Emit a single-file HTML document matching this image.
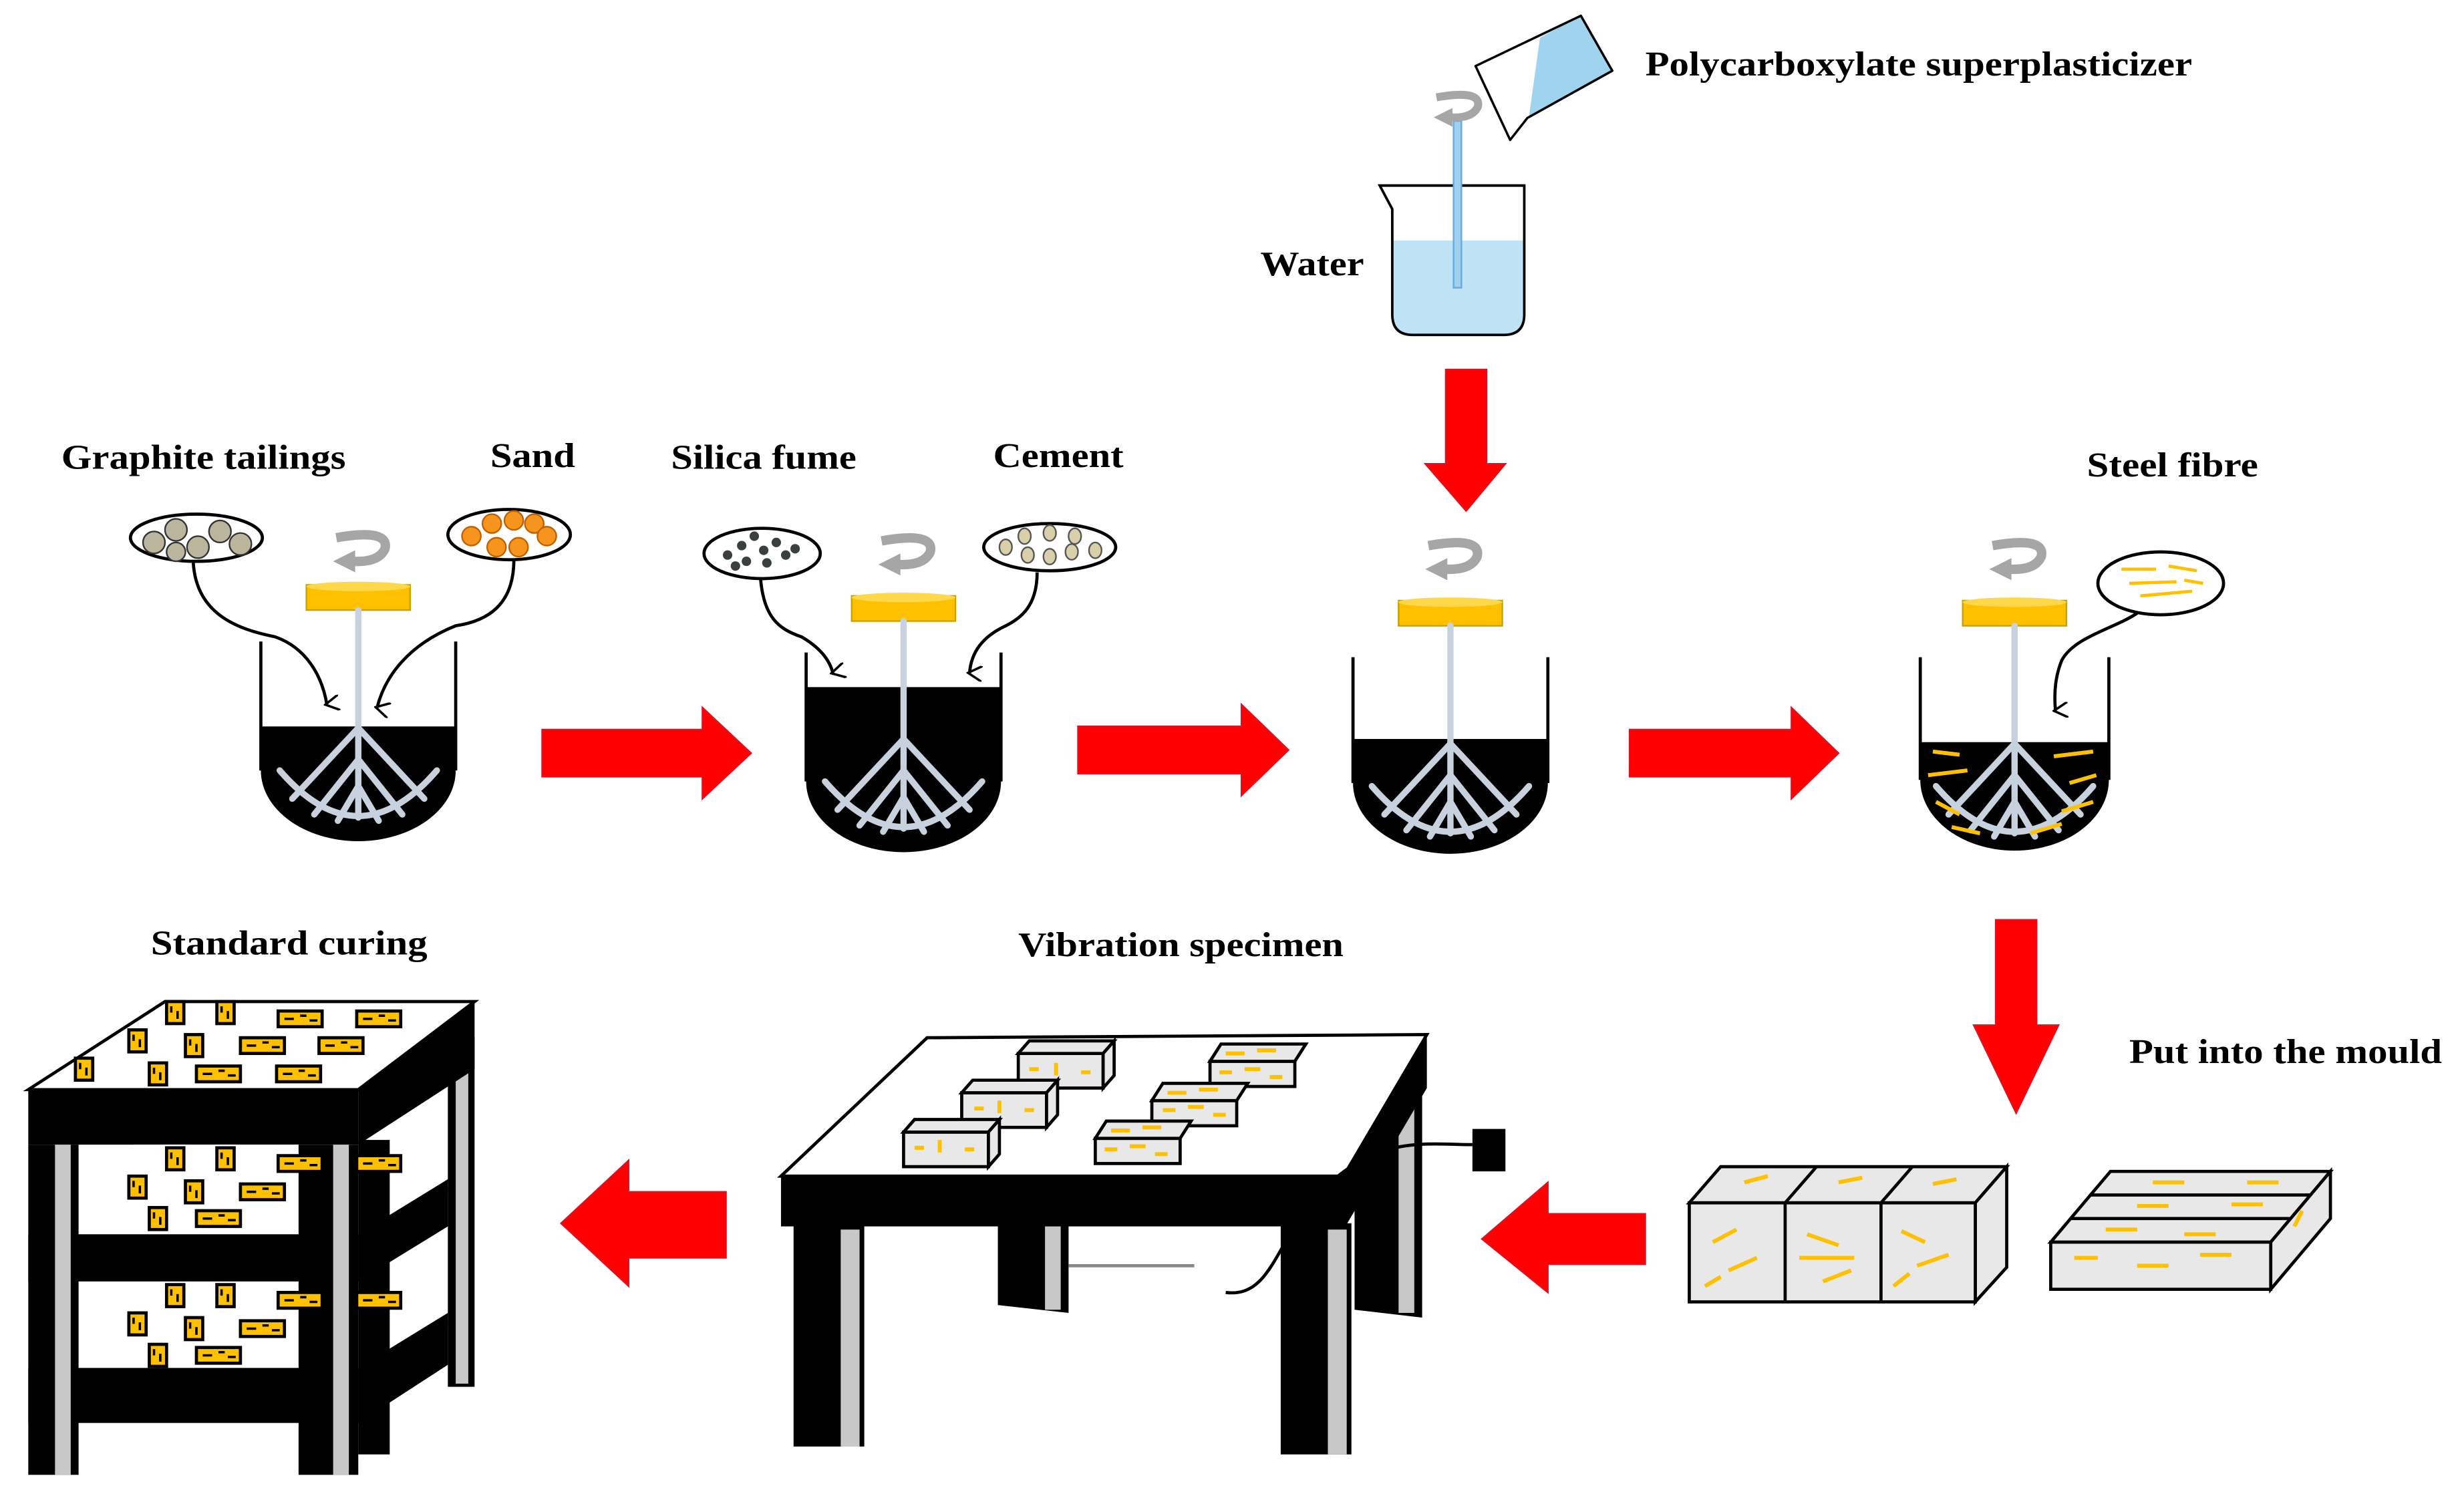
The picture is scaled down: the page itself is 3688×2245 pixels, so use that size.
<!DOCTYPE html>
<html><head><meta charset="utf-8"><style>
html,body{margin:0;padding:0;background:#fff;}
svg{display:block;}
text{font-family:"Liberation Serif",serif;font-weight:bold;font-size:22px;fill:#000;}
</style></head><body>
<svg width="3688" height="2245" viewBox="0 0 1568 954" preserveAspectRatio="none" xmlns="http://www.w3.org/2000/svg">
<defs>
<g id="paddle">
  <rect x="-33" y="-36" width="66" height="16" fill="#ffc000" stroke="#c9a000" stroke-width="1"/>
  <ellipse cx="0" cy="-35" rx="33" ry="3" fill="#ffd84a"/>
  <g stroke="#c8d2de" stroke-width="4" fill="none" stroke-linecap="round">
    <line x1="0" y1="-20" x2="0" y2="112"/>
    <line x1="0" y1="55" x2="-42" y2="100"/><line x1="0" y1="55" x2="42" y2="100"/>
    <line x1="0" y1="75" x2="-28" y2="110"/><line x1="0" y1="75" x2="28" y2="110"/>
    <line x1="0" y1="92" x2="-13" y2="114"/><line x1="0" y1="92" x2="13" y2="114"/>
    <path d="M-50,82 Q0,140 50,82"/>
  </g>
</g>
<g id="rot">
  <path d="M-14,-66 Q20,-72 17,-59 Q13,-50 -4,-51" stroke="#a6a6a6" stroke-width="6" fill="none"/>
  <polygon points="-2,-58 -16,-51 -2,-44" fill="#a6a6a6"/>
</g>
<marker id="ah" markerWidth="10" markerHeight="10" refX="5" refY="8" orient="auto" markerUnits="userSpaceOnUse">
  <path d="M0,0 L5,9 L10,0" fill="none" stroke="#000" stroke-width="1.5"/>
</marker>
<g id="cubeY"><rect x="0" y="0" width="11" height="14" fill="#ffc000" stroke="#000" stroke-width="2"/><path d="M3,3 v4 M7,6 v5" stroke="#000" stroke-width="1.5"/></g>
<g id="barY"><rect x="0" y="0" width="28" height="10" fill="#ffc000" stroke="#000" stroke-width="2"/><path d="M4,5 h6 M14,3 h4 M20,6 h5" stroke="#000" stroke-width="1.5"/></g>
</defs>

<!-- Labels -->
<text x="1047" y="48" textLength="348" lengthAdjust="spacingAndGlyphs">Polycarboxylate superplasticizer</text>
<text x="802" y="175" textLength="66" lengthAdjust="spacingAndGlyphs">Water</text>
<text x="39" y="298" textLength="181" lengthAdjust="spacingAndGlyphs">Graphite tailings</text>
<text x="312" y="297" textLength="54" lengthAdjust="spacingAndGlyphs">Sand</text>
<text x="427" y="298" textLength="118" lengthAdjust="spacingAndGlyphs">Silica fume</text>
<text x="632" y="297" textLength="83" lengthAdjust="spacingAndGlyphs">Cement</text>
<text x="1328" y="303" textLength="109" lengthAdjust="spacingAndGlyphs">Steel fibre</text>
<text x="96" y="607" textLength="176" lengthAdjust="spacingAndGlyphs">Standard curing</text>
<text x="648" y="608" textLength="207" lengthAdjust="spacingAndGlyphs">Vibration specimen</text>
<text x="1355" y="676" textLength="199" lengthAdjust="spacingAndGlyphs">Put into the mould</text>

<!-- Beaker and flask -->
<path d="M878,118 L970,118 L970,200 Q970,213 957,213 L899,213 Q886,213 886,200 L886,133 Z" fill="#fff"/>
<path d="M886,153 L970,153 L970,200 Q970,213 957,213 L899,213 Q886,213 886,200 Z" fill="#bde3f5"/>
<path d="M878,118 L970,118 L970,200 Q970,213 957,213 L899,213 Q886,213 886,200 L886,133 Z" fill="none" stroke="#000" stroke-width="1.6"/>
<rect x="925" y="77" width="5" height="106" fill="#9ed0ef" stroke="#6aa8d8" stroke-width="1"/>
<polygon points="939,42 1006,10 1026,45 972,75 961,89" fill="#fff"/>
<polygon points="980,24 1006,10 1026,45 973,74" fill="#9fd3ee"/>
<polygon points="939,42 1006,10 1026,45 972,75 961,89" fill="none" stroke="#000" stroke-width="1.5" stroke-linejoin="round"/>
<g transform="translate(926,118)"><use href="#rot" transform="scale(0.85)"/></g>

<!-- Mixer 1 -->
<g transform="translate(228,408)">
  <path d="M-62,54 H62 V82 A62,45 0 0 1 -62,82 Z" fill="#000"/>
  <path d="M-62,0 V82 M62,0 V82" stroke="#000" stroke-width="2"/>
  <use href="#paddle"/><use href="#rot"/>
</g>
<ellipse cx="125" cy="342" rx="42" ry="15" fill="#fff" stroke="#000" stroke-width="2"/>
<g fill="#bcb59d" stroke="#333" stroke-width="1">
<circle cx="98" cy="345" r="7"/><circle cx="112" cy="337" r="7"/><circle cx="126" cy="348" r="7"/><circle cx="140" cy="338" r="7"/><circle cx="153" cy="346" r="7"/><circle cx="112" cy="351" r="6"/></g>
<ellipse cx="324" cy="340" rx="39" ry="16" fill="#fff" stroke="#000" stroke-width="2"/>
<g fill="#f7941d" stroke="#c06000" stroke-width="1">
<circle cx="300" cy="341" r="6"/><circle cx="313" cy="333" r="6"/><circle cx="327" cy="331" r="6"/><circle cx="340" cy="333" r="6"/><circle cx="348" cy="341" r="6"/><circle cx="316" cy="348" r="6"/><circle cx="330" cy="348" r="6"/></g>
<path d="M123,358 C125,390 150,400 175,405 C195,412 205,430 208,448" fill="none" stroke="#000" stroke-width="2" marker-end="url(#ah)"/>
<path d="M327,356 C327,385 310,395 290,398 C260,410 245,430 240,450" fill="none" stroke="#000" stroke-width="2" marker-end="url(#ah)"/>

<!-- Mixer 2 -->
<g transform="translate(575,415)">
  <path d="M-62,22 H62 V82 A62,45 0 0 1 -62,82 Z" fill="#000"/>
  <path d="M-62,0 V82 M62,0 V82" stroke="#000" stroke-width="2"/>
  <use href="#paddle"/><use href="#rot" transform="translate(0,-5)"/>
</g>
<ellipse cx="485" cy="352" rx="37" ry="16" fill="#fff" stroke="#000" stroke-width="2"/>
<g fill="#3a3f40"><circle cx="463" cy="353" r="3"/><circle cx="472" cy="347" r="3"/><circle cx="480" cy="341" r="3"/><circle cx="486" cy="350" r="3"/><circle cx="494" cy="345" r="3"/><circle cx="500" cy="353" r="3"/><circle cx="475" cy="357" r="3"/><circle cx="488" cy="358" r="3"/><circle cx="468" cy="360" r="3"/><circle cx="506" cy="349" r="3"/></g>
<ellipse cx="668" cy="348" rx="42" ry="15" fill="#fff" stroke="#000" stroke-width="2"/>
<g fill="#d9cfa8" stroke="#555" stroke-width="1"><ellipse cx="640" cy="348" rx="4" ry="5"/><ellipse cx="652" cy="341" rx="4" ry="5"/><ellipse cx="668" cy="339" rx="4" ry="5"/><ellipse cx="684" cy="341" rx="4" ry="5"/><ellipse cx="697" cy="350" rx="4" ry="5"/><ellipse cx="654" cy="353" rx="4" ry="5"/><ellipse cx="668" cy="354" rx="4" ry="5"/><ellipse cx="682" cy="351" rx="4" ry="5"/></g>
<path d="M484,368 C486,392 495,400 510,405 C522,412 528,420 530,428" fill="none" stroke="#000" stroke-width="2" marker-end="url(#ah)"/>
<path d="M660,364 C660,385 650,393 640,398 C625,405 618,415 617,428" fill="none" stroke="#000" stroke-width="2" marker-end="url(#ah)"/>

<!-- Mixer 3 -->
<g transform="translate(923,418)">
  <path d="M-62,52 H62 V80 A62,45 0 0 1 -62,80 Z" fill="#000"/>
  <path d="M-62,0 V80 M62,0 V80" stroke="#000" stroke-width="2"/>
  <use href="#paddle"/><use href="#rot" transform="translate(0,-5)"/>
</g>

<!-- Mixer 4 -->
<g transform="translate(1282,418)">
  <path d="M-60,54 H60 V78 A60,45 0 0 1 -60,78 Z" fill="#000"/>
  <path d="M-60,0 V78 M60,0 V78" stroke="#000" stroke-width="2"/>
  <use href="#paddle"/><use href="#rot" transform="translate(0,-5)"/>
  <g stroke="#ffc000" stroke-width="2.5">
    <line x1="-52" y1="60" x2="-35" y2="62"/><line x1="-55" y1="75" x2="-30" y2="72"/><line x1="-50" y1="92" x2="-35" y2="100"/>
    <line x1="-40" y1="108" x2="-22" y2="112"/><line x1="25" y1="63" x2="50" y2="60"/><line x1="35" y1="80" x2="52" y2="75"/>
    <line x1="30" y1="98" x2="50" y2="92"/><line x1="10" y1="112" x2="30" y2="106"/>
  </g>
</g>
<ellipse cx="1375" cy="371" rx="40" ry="20" fill="#fff" stroke="#000" stroke-width="2"/>
<g stroke="#ffc000" stroke-width="2"><line x1="1350" y1="362" x2="1372" y2="362"/><line x1="1380" y1="360" x2="1398" y2="363"/><line x1="1355" y1="371" x2="1385" y2="370"/><line x1="1362" y1="379" x2="1395" y2="376"/><line x1="1390" y1="369" x2="1402" y2="371"/></g>
<path d="M1360,390 C1345,400 1320,405 1312,420 C1308,430 1307,440 1308,452" fill="none" stroke="#000" stroke-width="2" marker-end="url(#ah)"/>

<!-- Red arrows -->
<g fill="#ff0000" stroke="#e01020" stroke-width="1">
<polygon points="345,464 447,464 447,450 478,479 447,508 447,494 345,494"/>
<polygon points="686,462 790,462 790,448 820,477 790,506 790,492 686,492"/>
<polygon points="1037,464 1140,464 1140,450 1170,479 1140,508 1140,494 1037,494"/>
<polygon points="920,235 946,235 946,295 958,295 933,325 907,295 920,295"/>
<polygon points="1270,585 1296,585 1296,652 1310,652 1283,708 1256,652 1270,652"/>
<polygon points="1047,772 985,772 985,752 943,788 985,822 985,804 1047,804"/>
<polygon points="462,758 400,758 400,738 357,778 400,818 400,800 462,800"/>
</g>

<!-- Moulds -->
<g stroke="#000" stroke-width="2" fill="#e8e8e8">
<polygon points="1075,765 1095,742 1277,742 1257,765"/>
<polygon points="1257,765 1277,742 1277,806 1257,828"/>
<rect x="1075" y="765" width="182" height="63"/>
<line x1="1136" y1="765" x2="1136" y2="828"/><line x1="1197" y1="765" x2="1197" y2="828"/>
<line x1="1136" y1="765" x2="1156" y2="742"/><line x1="1197" y1="765" x2="1217" y2="742"/>
<polygon points="1305,790 1343,745 1483,745 1445,790"/>
<polygon points="1445,790 1483,745 1483,775 1445,820"/>
<rect x="1305" y="790" width="140" height="30"/>
<line x1="1318" y1="775" x2="1458" y2="775"/><line x1="1330" y1="760" x2="1470" y2="760"/>
</g>
<g stroke="#ffc000" stroke-width="2.5">
<line x1="1090" y1="790" x2="1105" y2="782"/><line x1="1100" y1="808" x2="1118" y2="800"/><line x1="1085" y1="818" x2="1095" y2="812"/>
<line x1="1150" y1="785" x2="1170" y2="792"/><line x1="1145" y1="800" x2="1180" y2="800"/><line x1="1160" y1="815" x2="1178" y2="808"/>
<line x1="1210" y1="783" x2="1225" y2="790"/><line x1="1220" y1="805" x2="1240" y2="798"/><line x1="1205" y1="818" x2="1215" y2="810"/>
<line x1="1110" y1="752" x2="1125" y2="748"/><line x1="1170" y1="752" x2="1185" y2="749"/><line x1="1230" y1="753" x2="1245" y2="750"/>
<line x1="1320" y1="800" x2="1335" y2="800"/><line x1="1360" y1="805" x2="1380" y2="805"/><line x1="1400" y1="798" x2="1420" y2="798"/>
<line x1="1340" y1="782" x2="1360" y2="782"/><line x1="1390" y1="785" x2="1410" y2="785"/><line x1="1360" y1="767" x2="1380" y2="767"/>
<line x1="1420" y1="766" x2="1440" y2="766"/><line x1="1370" y1="752" x2="1390" y2="752"/><line x1="1430" y1="752" x2="1450" y2="752"/>
<line x1="1460" y1="780" x2="1465" y2="770"/>
</g>

<!-- Vibration table -->
<g>
<polygon points="635,770 680,770 680,835 635,830" fill="#000"/><rect x="665" y="775" width="10" height="58" fill="#c8c8c8"/>
<polygon points="862,690 905,690 905,838 862,833" fill="#000"/><rect x="890" y="695" width="10" height="140" fill="#c8c8c8"/>
<line x1="680" y1="805" x2="760" y2="805" stroke="#888" stroke-width="2"/>
<polygon points="497,748 590,660 908,658 855,748" fill="#fff" stroke="#000" stroke-width="2"/>
<rect x="497" y="748" width="358" height="32" fill="#000"/>
<polygon points="855,748 908,658 908,692 855,782" fill="#000"/>
<rect x="505" y="778" width="45" height="142" fill="#000"/><rect x="535" y="782" width="12" height="138" fill="#c8c8c8"/>
<rect x="815" y="778" width="45" height="147" fill="#000"/><rect x="845" y="782" width="12" height="143" fill="#c8c8c8"/>
<path d="M937,728 C905,728 870,720 830,770 C810,800 805,825 780,822" fill="none" stroke="#000" stroke-width="2"/>
<rect x="937" y="718" width="21" height="27" fill="#000"/>
<g stroke="#000" stroke-width="2" fill="#e8e8e8">
<rect x="648" y="670" width="54" height="22"/><polygon points="648,670 655,662 709,662 702,670"/><polygon points="702,670 709,662 709,684 702,692"/>
<rect x="612" y="695" width="54" height="22"/><polygon points="612,695 619,687 673,687 666,695"/><polygon points="666,695 673,687 673,709 666,717"/>
<rect x="575" y="720" width="54" height="22"/><polygon points="575,720 582,712 636,712 629,720"/><polygon points="629,720 636,712 636,734 629,742"/>
<rect x="770" y="675" width="54" height="16"/><polygon points="770,675 777,664 831,664 824,675"/>
<rect x="733" y="700" width="54" height="16"/><polygon points="733,700 740,689 794,689 787,700"/>
<rect x="697" y="724" width="54" height="16"/><polygon points="697,724 704,713 758,713 751,724"/>
</g>
<g stroke="#ffc000" stroke-width="2.5">
<path d="M655,680 h6 M672,676 v8 M688,682 h6 M620,705 h6 M636,700 v8 M652,706 h6 M582,730 h6 M598,725 v8 M614,731 h6"/>
<path d="M776,682 h8 M792,680 h10 M808,685 h8 M740,706 h8 M756,704 h10 M772,709 h8 M703,731 h8 M719,729 h10 M735,734 h8"/>
<path d="M780,670 h12 M800,668 h12 M743,695 h12 M763,693 h12 M707,719 h12 M727,717 h12"/>
</g>
</g>

<!-- Curing shelf -->
<g>
<rect x="285" y="660" width="17" height="222" fill="#000"/><rect x="290" y="665" width="8" height="215" fill="#c8c8c8"/>
<polygon points="18,693 105,637 302,637 228,693" fill="#fff" stroke="#000" stroke-width="2"/>
<rect x="18" y="693" width="210" height="35" fill="#000"/>
<polygon points="228,693 302,637 302,680 228,728" fill="#000"/>
<polygon points="50,750 85,728 280,728 240,750" fill="#fff"/>
<polygon points="50,835 85,815 280,815 240,835" fill="#fff"/>
<rect x="18" y="785" width="210" height="30" fill="#000"/>
<polygon points="228,785 285,750 285,780 228,815" fill="#000"/>
<rect x="18" y="870" width="210" height="35" fill="#000"/>
<polygon points="228,870 285,835 285,868 228,905" fill="#000"/>
<rect x="18" y="728" width="32" height="210" fill="#000"/><rect x="35" y="728" width="10" height="210" fill="#c8c8c8"/>
<rect x="190" y="728" width="38" height="210" fill="#000"/><rect x="212" y="728" width="10" height="210" fill="#c8c8c8"/>
<rect x="228" y="725" width="20" height="200" fill="#000"/>
<g>
<use href="#cubeY" x="106" y="637"/><use href="#cubeY" x="138" y="637"/><use href="#barY" x="177" y="643"/><use href="#barY" x="227" y="643"/>
<use href="#cubeY" x="82" y="655"/><use href="#cubeY" x="118" y="658"/><use href="#barY" x="153" y="660"/><use href="#barY" x="203" y="660"/>
<use href="#cubeY" x="48" y="673"/><use href="#cubeY" x="95" y="676"/><use href="#barY" x="125" y="678"/><use href="#barY" x="176" y="678"/>
<use href="#cubeY" x="106" y="730"/><use href="#cubeY" x="138" y="730"/><use href="#barY" x="177" y="735"/><use href="#barY" x="227" y="735"/>
<use href="#cubeY" x="82" y="748"/><use href="#cubeY" x="118" y="751"/><use href="#barY" x="153" y="753"/>
<use href="#cubeY" x="95" y="768"/><use href="#barY" x="125" y="770"/>
<use href="#cubeY" x="106" y="817"/><use href="#cubeY" x="138" y="817"/><use href="#barY" x="177" y="822"/><use href="#barY" x="227" y="822"/>
<use href="#cubeY" x="82" y="835"/><use href="#cubeY" x="118" y="838"/><use href="#barY" x="153" y="840"/>
<use href="#cubeY" x="95" y="855"/><use href="#barY" x="125" y="857"/>
</g>
</g>
</svg>
</body></html>
